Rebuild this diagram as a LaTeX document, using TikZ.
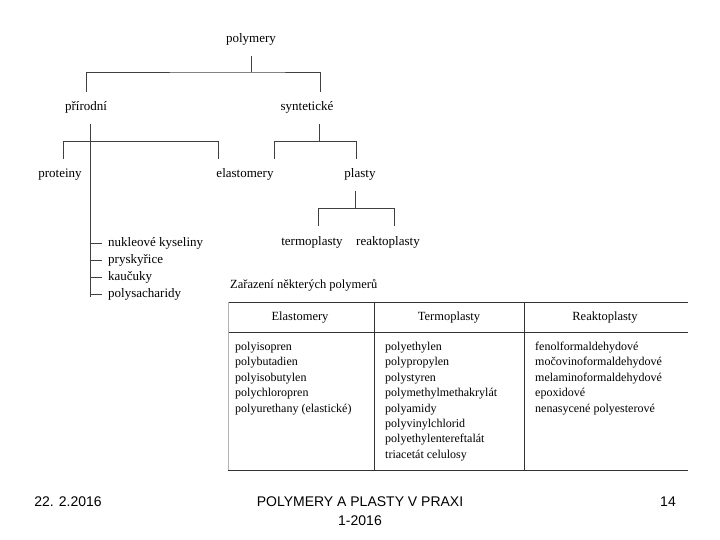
\documentclass[tikz,border=0pt]{standalone}
\usepackage{fontspec}
\setmainfont{Liberation Serif}
\newfontfamily\footfont{Liberation Sans}
\begin{document}
\begin{tikzpicture}[x = 1pt, y = -1pt,
  branch/.style = {draw = black!75, line width = 0.5pt},
  rule/.style = {draw = black!80, line width = 0.6pt},
  term/.style = {font = \fontsize{13}{15}\selectfont, text height = 9pt, text depth = 3pt, inner xsep = 0pt, inner ysep = 10pt},
  item/.style = {term, anchor = west, inner ysep = 0pt},
  head/.style = {font = \fontsize{12.5}{14}\selectfont, text height = 8.5pt, text depth = 2.5pt, inner sep = 0pt},
  entry/.style = {head, anchor = west, font = \fontsize{12}{14}\selectfont},
  foot/.style = {font = \footfont\fontsize{14}{16}\selectfont, inner sep = 0pt}]
\useasboundingbox (0, 0) rectangle (720, 540);
% tree
\node[term] (polymery) at (251, 40) {polymery};
\node[term] (prirodni) at (86, 108) {přírodní};
\node[term] (synteticke) at (307, 108) {syntetické};
\node[term] (proteiny) at (60, 175) {proteiny};
\node[term] (elastomery) at (245, 175) {elastomery};
\node[term] (plasty) at (360, 175) {plasty};
\node[term] (termoplasty) at (312, 242) {termoplasty};
\node[term] (reaktoplasty) at (388, 242) {reaktoplasty};
\coordinate (top) at (251, 72);
\draw[branch] (polymery.south) -- (top);
\draw[branch] (prirodni.north) |- (top) -| ([xshift = 13pt]synteticke.north);
\draw[branch] ([xshift = 3pt]proteiny.north) -- ++(0, -18) -| ([xshift = -27pt]elastomery.north);
\draw[branch] ([xshift = 29pt]elastomery.north) -- ++(0, -18) -| ([xshift = -4pt]plasty.north);
\draw[branch] ([xshift = 12pt]synteticke.south) -- ++(0, 17);
\draw[branch] ([xshift = -5pt]plasty.south) -- ++(0, 17);
\draw[branch] ([xshift = 6pt]termoplasty.north) -- ++(0, -18) -| ([xshift = 6pt]reaktoplasty.north);
% natural ones
\node[item] (nukleove) at (108, 243) {nukleové kyseliny};
\node[item] (pryskyrice) at (108, 260) {pryskyřice};
\node[item] (kaucuky) at (108, 277) {kaučuky};
\node[item] (polysacharidy) at (108, 294) {polysacharidy};
\coordinate (stem) at (90, 297);
\draw[branch] ([xshift = 4pt]prirodni.south) -- (stem);
\foreach \n in {nukleove, pryskyrice, kaucuky, polysacharidy}
  \draw[branch] ([xshift = -6pt]\n.west) -- (\n.west -| stem);
% table
\node[head, anchor = west] (caption) at (230, 285) {Zařazení některých polymerů};
\draw[rule] (228, 302) -- (688, 302);
\draw[rule] (228, 332) -- (688, 332);
\draw[rule] (228, 470) -- (688, 470);
\draw[rule] (374, 302) -- (374, 470);
\draw[rule] (524, 302) -- (524, 470);
\draw[draw = black!30, line width = 0.5pt] (228, 302) -- (228, 470);
\node[head] (hela) at (300, 317) {Elastomery};
\node[head] (hter) at (449, 317) {Termoplasty};
\node[head] (hrea) at (605, 317) {Reaktoplasty};
\foreach \t [count = \i] in {polyisopren, polybutadien, polyisobutylen, polychloropren, polyurethany (elastické)}
  \node[entry] (ela\i) at (235, 332 + 15.4*\i) {\t};
\foreach \t [count = \i] in {polyethylen, polypropylen, polystyren, polymethylmethakrylát, polyamidy, polyvinylchlorid, polyethylentereftalát, triacetát celulosy}
  \node[entry] (ter\i) at (385, 332 + 15.4*\i) {\t};
\foreach \t [count = \i] in {fenolformaldehydové, močovinoformaldehydové, melaminoformaldehydové, epoxidové, nenasycené polyesterové}
  \node[entry] (rea\i) at (535, 332 + 15.4*\i) {\t};
% footer
\node[foot] (date) at (68, 502) {22. 2.2016};
\node[foot] (title) at (360, 502) {POLYMERY A PLASTY V PRAXI};
\node[foot] (year) at (360, 521) {1-2016};
\node[foot] (page) at (668, 502) {14};
\end{tikzpicture}
\end{document}
